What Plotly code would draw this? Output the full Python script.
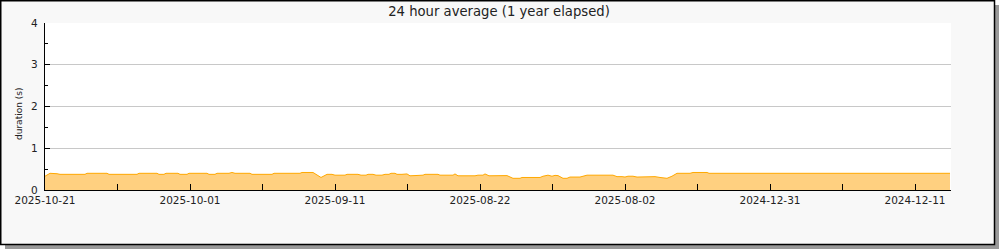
import plotly.graph_objects as go

# ---- data ----
days_elapsed = [0, 0.69, 1.66, 2.07, 5.52, 5.79, 8.55, 8.83, 12.69, 12.97, 15.45, 15.72,
                16.41, 16.69, 18.34, 18.62, 19.59, 19.86, 22.34, 22.62, 23.45, 23.72,
                25.38, 25.79, 26.21, 28.28, 28.55, 31.31, 31.59, 35.17, 35.45, 36.97,
                38.07, 38.90, 39.59, 40.00, 41.38, 41.66, 43.17, 43.59, 44.28, 44.55,
                45.24, 45.66, 46.48, 46.90, 47.45, 47.72, 48.28, 48.55, 49.24, 49.52,
                49.93, 50.34, 51.03, 51.45, 52.14, 52.41, 54.21, 54.48, 56.28, 56.55,
                56.97, 59.31, 59.72, 60.41, 60.69, 61.24, 62.76, 63.17, 63.72, 64.55,
                65.52, 65.79, 68.28, 68.69, 69.38, 69.93, 70.34, 70.76, 71.45, 72.00,
                72.41, 73.79, 74.21, 74.76, 78.34, 78.90, 79.59, 80.00, 80.41, 81.10,
                81.66, 83.17, 83.72, 84.14, 84.83, 85.79, 86.48, 87.17, 88.97, 89.38,
                91.31, 91.59, 124.83]
duration_s = [0.33, 0.40, 0.39, 0.375, 0.375, 0.40, 0.40, 0.375, 0.375, 0.40, 0.40, 0.375,
              0.375, 0.40, 0.40, 0.375, 0.375, 0.40, 0.40, 0.375, 0.375, 0.40,
              0.40, 0.42, 0.40, 0.40, 0.375, 0.375, 0.40, 0.40, 0.42, 0.42,
              0.30, 0.375, 0.375, 0.355, 0.355, 0.375, 0.375, 0.355, 0.355, 0.375,
              0.375, 0.355, 0.355, 0.375, 0.375, 0.40, 0.40, 0.375, 0.375, 0.385,
              0.385, 0.34, 0.34, 0.355, 0.355, 0.375, 0.375, 0.355, 0.355, 0.385,
              0.34, 0.34, 0.355, 0.355, 0.385, 0.34, 0.34, 0.355, 0.345, 0.28,
              0.28, 0.30, 0.30, 0.33, 0.355, 0.33, 0.35, 0.345, 0.28, 0.28,
              0.31, 0.31, 0.335, 0.355, 0.355, 0.32, 0.32, 0.31, 0.33, 0.33,
              0.31, 0.31, 0.32, 0.32, 0.30, 0.28, 0.33, 0.40, 0.40, 0.42,
              0.42, 0.40, 0.40]

tick_days = [0, 10, 20, 30, 40, 50, 60, 70, 80, 90, 100, 110, 120]
tick_labels = ["2025-10-21", "", "2025-10-01", "", "2025-09-11", "", "2025-08-22", "",
               "2025-08-02", "", "2024-12-31", "", "2024-12-11"]

# ---- layout geometry (pixels) ----
W, H = 1000, 250
L, R, T, B = 45, 951, 23, 190
pw, ph = R - L, B - T


def px_x(x):
    return (x - L) / pw


def px_y(y):
    return (B - y) / ph


FONT = "DejaVu Sans"
TXT = "#222222"

fig = go.Figure()
fig.add_trace(go.Scatter(
    x=days_elapsed, y=duration_s, mode="lines", fill="tozeroy",
    fillcolor="#ffd080", line=dict(color="#ffa800", width=1), hoverinfo="skip",
    showlegend=False,
))

shapes = [
    # drop shadow
    dict(type="rect", xref="paper", yref="paper", layer="below",
         x0=px_x(5), x1=px_x(999), y0=px_y(249), y1=px_y(5),
         fillcolor="#999999", line=dict(width=0)),
    # frame
    dict(type="rect", xref="paper", yref="paper", layer="below",
         x0=px_x(0.75), x1=px_x(994.5), y0=px_y(244.5), y1=px_y(0.75),
         fillcolor="#f8f8f8", line=dict(color="black", width=1.5)),
    # plot area
    dict(type="rect", xref="paper", yref="paper", layer="below",
         x0=0, x1=1, y0=0, y1=1, fillcolor="white", line=dict(width=0)),
]

fig.update_layout(
    width=W, height=H,
    margin=dict(l=L, r=W - R, t=T, b=H - B, pad=0),
    paper_bgcolor="white", plot_bgcolor="white",
    font=dict(family=FONT, size=10.5, color=TXT),
    title=dict(text="24 hour average (1 year elapsed)", x=499 / W,
               xanchor="center", y=1 - 11 / H, yanchor="middle",
               font=dict(family=FONT, size=13.2, color=TXT)),
    shapes=shapes,
    annotations=[dict(text="duration (s)", xref="paper", yref="paper",
                      x=px_x(19), y=px_y(114), showarrow=False, textangle=-90,
                      xanchor="center", yanchor="middle",
                      font=dict(family=FONT, size=9, color=TXT))],
    xaxis=dict(range=[0, pw / 7.25], tickmode="array", tickvals=tick_days,
               ticktext=tick_labels, ticks="inside", ticklen=6, tickcolor="black",
               showline=True, linecolor="black", linewidth=1.3, showgrid=False,
               zeroline=False, fixedrange=True),
    yaxis=dict(range=[0, 4], tickmode="array", tickvals=[0, 1, 2, 3, 4],
               ticks="inside", ticklen=5, tickcolor="black",
               minor=dict(tickmode="array", tickvals=[0.5, 1.5, 2.5, 3.5],
                          ticks="inside", ticklen=3, tickcolor="black", showgrid=False),
               showline=True, linecolor="black", linewidth=1.3,
               showgrid=True, gridcolor="#c8c8c8", gridwidth=1,
               zeroline=False, ticklabelstandoff=4, fixedrange=True),
)

fig.write_html("out.html")
